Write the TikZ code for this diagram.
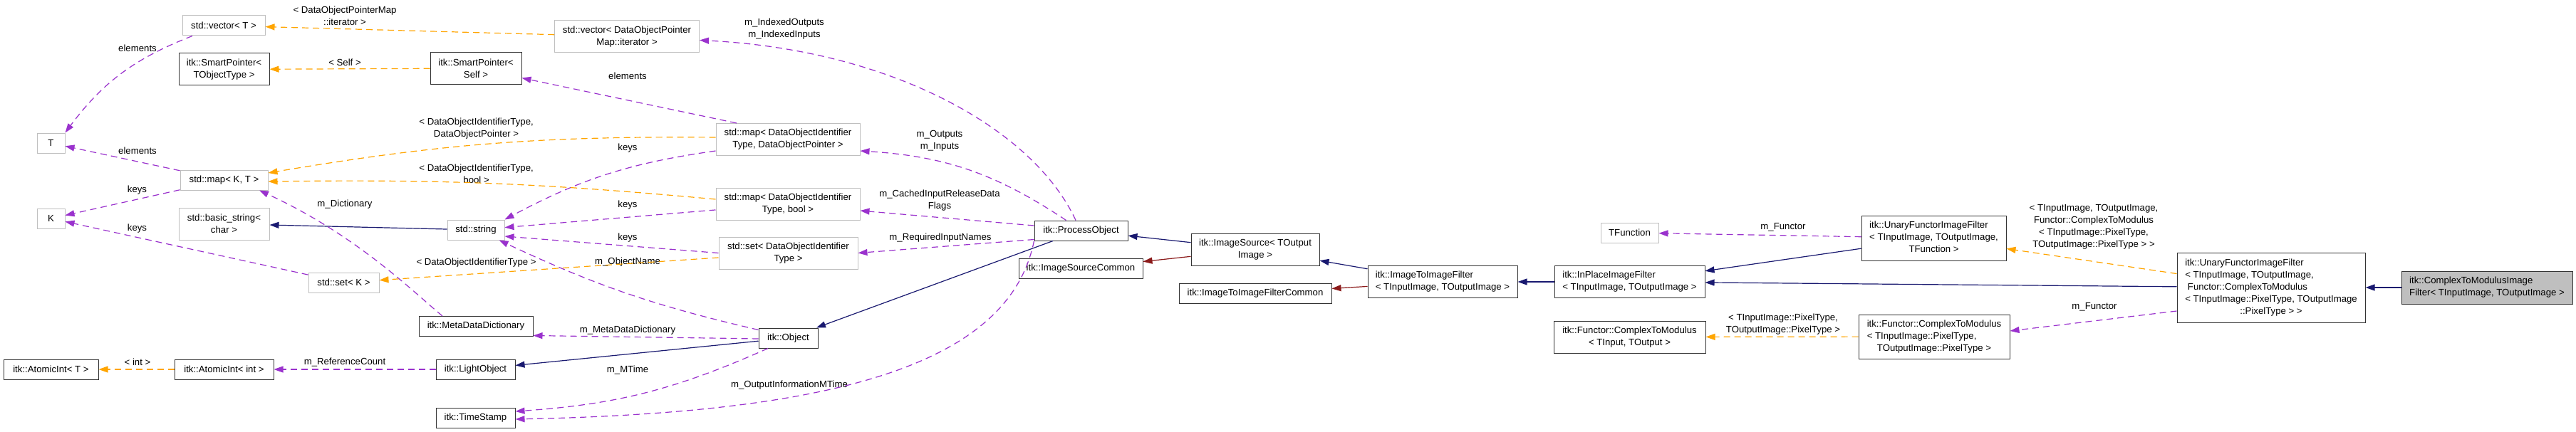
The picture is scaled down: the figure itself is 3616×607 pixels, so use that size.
\documentclass[tikz,border=0pt]{standalone}
\usepackage{fontspec}
\setmainfont{Liberation Sans}
\usepackage{tikz}
\usetikzlibrary{arrows.meta}

\definecolor{edgeblue}{HTML}{191970}
\definecolor{edgered}{HTML}{8B1A1A}
\definecolor{edgepurple}{HTML}{9A32CD}
\definecolor{edgeorange}{HTML}{FFA500}
\definecolor{grey75}{HTML}{BFBFBF}
\newcommand{\dxfont}{\fontsize{13.2pt}{17pt}\selectfont}

\begin{document}
\begin{tikzpicture}[x=1pt, y=-1pt,
            cls/.style={draw=black!80, fill=white, line width=1pt, inner sep=0pt, font=\dxfont, align=center},
            ext/.style={cls, draw=grey75},
            lbl/.style={inner sep=0pt, font=\dxfont, align=center},
            inherit/.style={draw=edgeblue, line width=1.2pt, -{Triangle[length=13pt, width=9pt]}},
            inheritprot/.style={inherit, draw=edgered},
            usedby/.style={draw=edgepurple, line width=1.2pt, dash pattern=on 9pt off 6pt, -{Triangle[length=13pt, width=9pt]}},
            templ/.style={usedby, draw=edgeorange}]
            \path[use as bounding box, fill=white] (0,0) rectangle (3616,607);

            % classes
            \node[ext, minimum width=39pt, minimum height=28pt] (tT) at (71.5,201) {T};
            \node[ext, minimum width=39pt, minimum height=28pt] (tK) at (71.5,307) {K};
            \node[ext, minimum width=116pt, minimum height=28pt] (vecT) at (314,36) {std::vector< T >};
            \node[cls, minimum width=127pt, minimum height=45pt] (spTO) at (314.5,97.5) {itk::SmartPointer<\\TObjectType >};
            \node[ext, minimum width=123pt, minimum height=28pt] (mapKT) at (314.5,253) {std::map< K, T >};
            \node[ext, minimum width=127pt, minimum height=45pt] (bstr) at (314.5,314.5) {std::basic\_string<\\char >};
            \node[ext, minimum width=99pt, minimum height=28pt] (setK) at (482.5,397) {std::set< K >};
            \node[cls, minimum width=133pt, minimum height=28pt] (aiT) at (71.5,519) {itk::AtomicInt< T >};
            \node[cls, minimum width=139pt, minimum height=28pt] (aiInt) at (314.5,519) {itk::AtomicInt< int >};
            \node[cls, minimum width=128pt, minimum height=45pt] (spSelf) at (668,96) {itk::SmartPointer<\\Self >};
            \node[ext, minimum width=80pt, minimum height=28pt] (str) at (668,323) {std::string};
            \node[cls, minimum width=160pt, minimum height=28pt] (mdd) at (668,458.5) {itk::MetaDataDictionary};
            \node[cls, minimum width=111pt, minimum height=28pt] (lobj) at (667.5,519) {itk::LightObject};
            \node[cls, minimum width=111pt, minimum height=28pt] (tstamp) at (667.5,587) {itk::TimeStamp};
            \node[ext, minimum width=203pt, minimum height=45pt] (vecIt) at (880,51.5) {std::vector< DataObjectPointer\\Map::iterator >};
            \node[ext, minimum width=202pt, minimum height=45pt] (mapDOP) at (1106,196) {std::map< DataObjectIdentifier\\Type, DataObjectPointer >};
            \node[ext, minimum width=202pt, minimum height=45pt] (mapBool) at (1106,286.5) {std::map< DataObjectIdentifier\\Type, bool >};
            \node[ext, minimum width=195pt, minimum height=45pt] (setDOI) at (1106.5,355.5) {std::set< DataObjectIdentifier\\Type >};
            \node[cls, minimum width=83pt, minimum height=28pt] (obj) at (1106.5,475) {itk::Object};
            \node[cls, minimum width=131pt, minimum height=28pt] (pobj) at (1517.5,324) {itk::ProcessObject};
            \node[cls, minimum width=174pt, minimum height=28pt] (isc) at (1517,377) {itk::ImageSourceCommon};
            \node[cls, minimum width=180pt, minimum height=45pt] (isrc) at (1762,350.5) {itk::ImageSource< TOutput\\Image >};
            \node[cls, minimum width=214pt, minimum height=28pt] (itifc) at (1762,412) {itk::ImageToImageFilterCommon};
            \node[cls, align=left, minimum width=210pt, minimum height=45pt] (itif) at (2025,396) {itk::ImageToImageFilter\\< TInputImage, TOutputImage >};
            \node[cls, align=left, minimum width=211pt, minimum height=45pt] (ipif) at (2287.5,396) {itk::InPlaceImageFilter\\< TInputImage, TOutputImage >};
            \node[ext, minimum width=81pt, minimum height=28pt] (tfunc) at (2287.5,327) {TFunction};
            \node[cls, minimum width=213pt, minimum height=45pt] (ctmIO) at (2287.5,473.5) {itk::Functor::ComplexToModulus\\< TInput, TOutput >};
            \node[cls, minimum width=203pt, minimum height=63pt] (ufTF) at (2714.5,334.5) {\begin{tabular}{@{}l@{}}itk::UnaryFunctorImageFilter\\< TInputImage, TOutputImage,\\\multicolumn{1}{@{}c@{}}{TFunction >}\end{tabular}};
            \node[cls, minimum width=212pt, minimum height=62pt] (ctmPix) at (2715,473) {\begin{tabular}{@{}l@{}}itk::Functor::ComplexToModulus\\< TInputImage::PixelType,\\\multicolumn{1}{@{}c@{}}{TOutputImage::PixelType >}\end{tabular}};
            \node[cls, minimum width=264pt, minimum height=98pt] (ufCTM) at (3188,404) {\begin{tabular}{@{}l@{}}itk::UnaryFunctorImageFilter\\< TInputImage, TOutputImage,\\\hspace*{3.7pt}Functor::ComplexToModulus\\< TInputImage::PixelType, TOutputImage\\\multicolumn{1}{@{}c@{}}{::PixelType > >}\end{tabular}};
            \node[cls, fill=grey75, align=left, minimum width=240pt, minimum height=46pt] (ctmif) at (3491,404) {itk::ComplexToModulusImage\\Filter< TInputImage, TOutputImage >};

            % edge labels
            \node[lbl] (lElemVec) at (193,68) {elements};
            \node[lbl] (lElemMap) at (193,212) {elements};
            \node[lbl] (lKeysMap) at (192.5,267) {keys};
            \node[lbl] (lKeysSet) at (192.5,321) {keys};
            \node[lbl] (lInt) at (193,509) {< int >};
            \node[lbl] (lIter) at (484,22) {< DataObjectPointerMap\\::iterator >};
            \node[lbl] (lSelf) at (484,88) {< Self >};
            \node[lbl] (lDict) at (484,287) {m\_Dictionary};
            \node[lbl] (lRef) at (484,509) {m\_ReferenceCount};
            \node[lbl] (lElemDOP) at (881,107) {elements};
            \node[lbl] (lDOP) at (668.6,180.5) {< DataObjectIdentifierType,\\DataObjectPointer >};
            \node[lbl] (lKeysDOP) at (881,208) {keys};
            \node[lbl] (lBool) at (668.6,244.5) {< DataObjectIdentifierType,\\bool >};
            \node[lbl] (lKeysBool) at (881,288) {keys};
            \node[lbl] (lKeysSetDOI) at (881,334) {keys};
            \node[lbl] (lDOI) at (668.6,369) {< DataObjectIdentifierType >};
            \node[lbl] (lName) at (881,368) {m\_ObjectName};
            \node[lbl] (lMDD) at (881,464) {m\_MetaDataDictionary};
            \node[lbl] (lMTime) at (881,520) {m\_MTime};
            \node[lbl] (lIndexed) at (1101,40.5) {m\_IndexedOutputs\\m\_IndexedInputs};
            \node[lbl] (lIO) at (1319,198) {m\_Outputs\\m\_Inputs};
            \node[lbl] (lCached) at (1319,282) {m\_CachedInputReleaseData\\Flags};
            \node[lbl] (lReq) at (1320,334) {m\_RequiredInputNames};
            \node[lbl] (lOutMTime) at (1108,541) {m\_OutputInformationMTime};
            \node[lbl] (lFunctorTF) at (2503,319) {m\_Functor};
            \node[lbl] (lPix) at (2503,455.5) {< TInputImage::PixelType,\\TOutputImage::PixelType >};
            \node[lbl] (lUnary) at (2939,319) {< TInputImage, TOutputImage,\\Functor::ComplexToModulus\\< TInputImage::PixelType,\\TOutputImage::PixelType > >};
            \node[lbl] (lFunctorCTM) at (2940,431) {m\_Functor};

            % inheritance
            \draw[inherit] (ctmif) -- (ufCTM);
            \draw[inherit] (ufCTM) -- (ipif);
            \draw[inherit] (ufTF) -- (ipif);
            \draw[inherit] (ipif) -- (itif);
            \draw[inherit] (itif) -- (isrc);
            \draw[inheritprot] (itif) -- (itifc);
            \draw[inherit] (isrc) -- (pobj);
            \draw[inheritprot] (isrc) -- (isc);
            \draw[inherit] (pobj) -- (obj);
            \draw[inherit] (obj) -- (lobj);
            \draw[inherit] (str) -- (bstr);

            % usage
            \draw[usedby] ([xshift=-44pt]vecT.south) to[bend right=16] (tT.north east);
            \draw[usedby] (mapKT) -- (tT);
            \draw[usedby] (mapKT) -- (tK);
            \draw[usedby] (setK) -- (tK);
            \draw[usedby] ([xshift=-47pt]mdd.north) .. controls (580,410) and (500,330) .. ([xshift=49.5pt]mapKT.south);
            \draw[usedby] ([yshift=-16pt]mapDOP.west) to[bend right=10] (str.north east);
            \draw[usedby] (mapBool) -- (str);
            \draw[usedby] (setDOI.west) -- ([yshift=-9pt]str.east);
            \draw[usedby] ([yshift=-3pt]obj.north west) to[bend left=6] ([xshift=-8pt]str.south east);
            \draw[usedby] ([xshift=-72pt]mapDOP.north) -- (spSelf);
            \draw[usedby] ([xshift=-7.5pt]pobj.north) .. controls (1450,180) and (1250,70) .. ([yshift=-5pt]vecIt.east);
            \draw[usedby] ([xshift=-21pt]pobj.north) to[bend right=15] ([yshift=-16pt]mapDOP.east);
            \draw[usedby] ([yshift=7pt]pobj.west) -- ([yshift=-9.5pt]mapBool.east);
            \draw[usedby] ([yshift=2pt]pobj.south west) -- (setDOI.east);
            \draw[usedby] ([yshift=-1pt]obj.west) -- ([yshift=-13pt]mdd.east);
            \draw[usedby] (lobj) -- (aiInt);
            \draw[usedby] ([xshift=-28.5pt]obj.south) to[bend left=10] ([yshift=9pt]tstamp.east);
            \draw[usedby] (pobj.south west) .. controls (1415,520) and (1150,580) .. ([yshift=-2pt]tstamp.east);
            \draw[usedby] (ufTF) -- (tfunc);
            \draw[usedby] ([yshift=-33pt]ufCTM.west) -- ([yshift=8pt]ctmPix.east);

            % template instances
            \draw[templ] (vecIt) -- (vecT);
            \draw[templ] (spSelf) -- (spTO);
            \draw[templ] ([yshift=3pt]mapDOP.west) to[bend right=5] ([yshift=10pt]mapKT.east);
            \draw[templ] ([yshift=6.5pt]mapBool.west) to[bend right=3] ([yshift=-2pt]mapKT.east);
            \draw[templ] (setDOI) -- (setK);
            \draw[templ] (aiInt) -- (aiT);
            \draw[templ] (ctmPix) -- (ctmIO);
            \draw[templ] (ufCTM) -- (ufTF);
        \end{tikzpicture}
\end{document}
